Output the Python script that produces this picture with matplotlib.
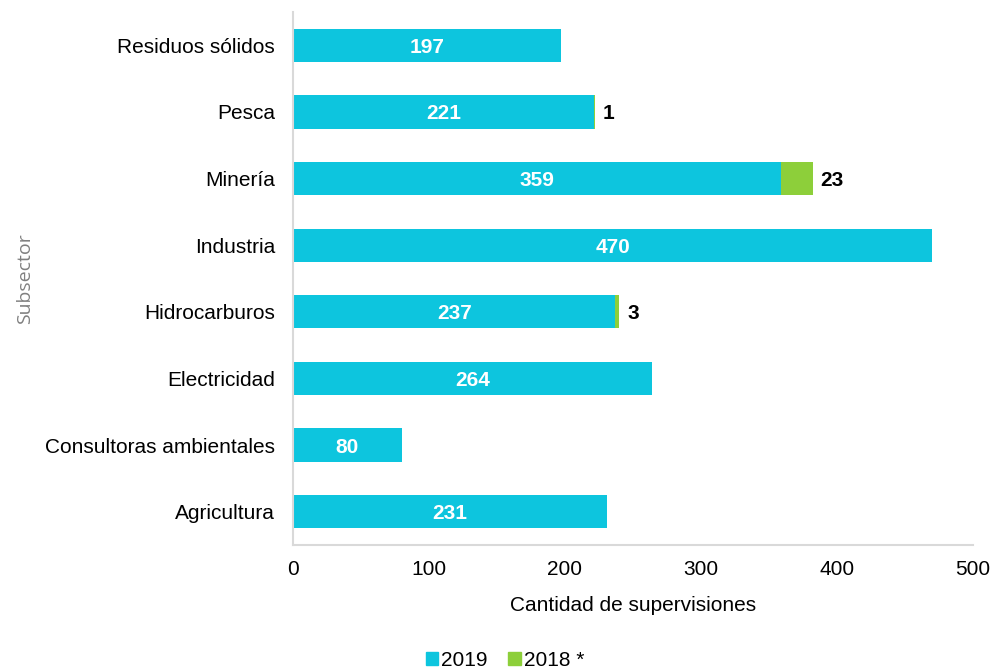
import numpy as np
import matplotlib.pyplot as plt
from matplotlib.patches import Patch

plt.rcParams['font.family'] = ['Liberation Sans', 'DejaVu Sans']

# Data (top to bottom as shown)
subsectores = ['Residuos sólidos', 'Pesca', 'Minería', 'Industria', 'Hidrocarburos',
               'Electricidad', 'Consultoras ambientales', 'Agricultura']
v2019 = [197, 221, 359, 470, 237, 264, 80, 231]
v2018 = [0, 1, 23, 0, 3, 0, 0, 0]

c2019 = '#0DC5DE'
c2018 = '#8DCF3A'

fig = plt.figure(figsize=(9.93, 6.7), dpi=100)
ax = fig.add_axes([293 / 993, 1 - 545 / 670, 680 / 993, 533 / 670])

y = np.arange(len(subsectores))
ax.barh(y, v2019, height=0.5, color=c2019, label='2019')
ax.barh(y, v2018, left=v2019, height=0.5, color=c2018, label='2018 *')

for i in range(len(y)):
    ax.text(v2019[i] / 2, y[i], str(v2019[i]), ha='center', va='center_baseline',
            color='white', fontsize=15, fontweight='bold')
    if v2018[i] > 0:
        ax.text(v2019[i] + v2018[i] + 6, y[i], str(v2018[i]), ha='left',
                va='center_baseline', color='black', fontsize=15, fontweight='bold')

ax.set_xlim(0, 500)
ax.set_ylim(len(y) - 0.5, -0.5)
ax.set_yticks(y)
ax.set_yticklabels(subsectores, fontsize=15)
ax.set_xticks([0, 100, 200, 300, 400, 500])
ax.tick_params(axis='x', labelsize=15, length=0, pad=11)
ax.tick_params(axis='y', length=0, pad=13)
ax.set_xlabel('Cantidad de supervisiones', fontsize=15, labelpad=12)
ax.set_ylabel('Subsector', fontsize=14, color='#808080', family=['Open Sans', 'DejaVu Sans'],
              labelpad=8)

for s in ['top', 'right']:
    ax.spines[s].set_visible(False)
for s in ['left', 'bottom']:
    ax.spines[s].set_color('#D9D9D9')
    ax.spines[s].set_linewidth(1.5)

handles = [Patch(color=c2019, label='2019'), Patch(color=c2018, label='2018 *')]
fig.legend(handles=handles, loc='center', bbox_to_anchor=(505 / 993, 1 - 660 / 670),
           ncol=2, frameon=False, fontsize=15, handlelength=0.6, handleheight=0.6,
           handletextpad=0.15, columnspacing=1.0)

fig.savefig('out.png', dpi=100)
